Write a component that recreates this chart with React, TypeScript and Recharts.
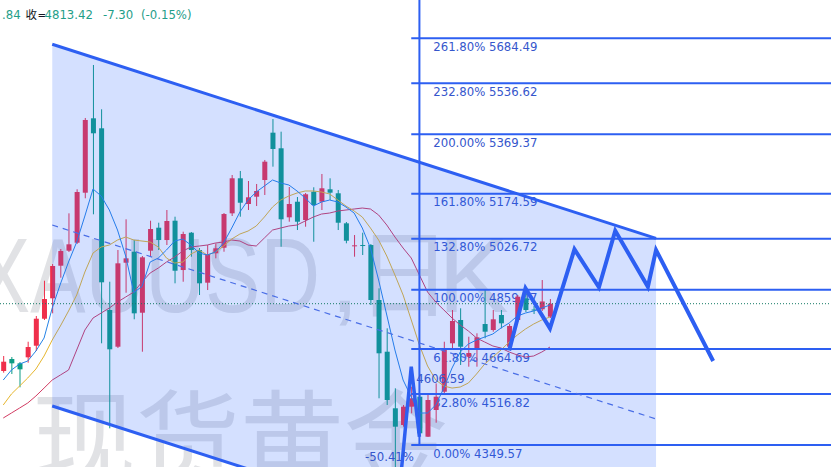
import React from 'react';
import { ComposedChart, XAxis, YAxis, Bar, Line, Area, Scatter, ReferenceLine } from 'recharts';

// ---- daily candles (XAUUSD, 日K) ----
const OPEN = [4592.5, 4631.8, 4617.7, 4637.4, 4675.5, 4764.1, 4831.1, 4938.1, 4987.3, 5013.5,
  5177.7, 5421.9, 5389.1, 4792.7, 4672.2, 4947.9, 4984.0, 4783.8, 4987.3, 5062.8,
  5022.4, 5085.8, 4923.9, 5046.4, 4989.6, 4882.3, 4978.8, 4997.1, 5110.0, 5225.0,
  5140.6, 5164.6, 5219.4, 5374.7, 5323.5, 5096.9, 5148.1, 5088.1, 5181.0, 5148.1,
  5188.9, 5175.8, 5077.2, 5002.7, 5006.0, 5006.0, 4825.5, 4655.8, 4470.1, 4415.2,
  4475.3, 4508.1, 4376.8, 4464.5, 4524.5, 4683.4, 4759.9, 4639.4, 4663.7, 4746.7,
  4727.0, 4776.3, 4672.2, 4759.9, 4831.1, 4794.3, 4795.0, 4770.7];
const HIGH = [4641.7, 4638.4, 4622.0, 4688.6, 4773.0, 4888.8, 4943.6, 4992.9, 5110.0, 5188.9,
  5422.9, 5596.9, 5451.5, 4885.5, 4989.6, 5090.4, 5022.4, 4969.9, 5085.8, 5079.2,
  5120.9, 5098.9, 5049.7, 5048.7, 4996.1, 5006.0, 5011.6, 5111.0, 5235.8, 5249.0,
  5216.1, 5206.3, 5285.1, 5419.6, 5378.0, 5196.4, 5163.6, 5176.7, 5195.5, 5239.1,
  5225.0, 5186.6, 5081.5, 5038.8, 5046.4, 5009.3, 4863.9, 4732.6, 4535.7, 4480.9,
  4541.1, 4520.2, 4519.3, 4551.9, 4688.6, 4792.7, 4798.3, 4705.0, 4716.2, 4858.3,
  4792.7, 4792.7, 4746.7, 4841.9, 4852.7, 4805.8, 4891.1, 4828.7];
const LOW = [4586.9, 4582.6, 4539.0, 4619.7, 4658.1, 4759.9, 4781.8, 4898.7, 4983.0, 5009.3,
  5159.4, 5106.8, 4683.4, 4404.4, 4667.9, 4849.4, 4762.2, 4655.8, 4967.6, 4989.6,
  5006.0, 4880.3, 4885.5, 4967.6, 4841.9, 4858.3, 4962.3, 4984.0, 5101.2, 5098.9,
  5120.9, 5134.0, 5170.2, 5263.1, 5000.4, 5082.5, 5055.2, 5066.1, 5016.8, 5120.9,
  5153.7, 5055.2, 5011.6, 4967.6, 4973.2, 4809.1, 4502.9, 4480.9, 4262.0, 4409.7,
  4453.6, 4376.8, 4375.9, 4422.8, 4520.2, 4667.0, 4612.2, 4606.6, 4606.6, 4699.8,
  4721.5, 4732.6, 4667.9, 4753.3, 4786.1, 4779.5, 4789.4, 4766.4];
const CLOSE = [4623.0, 4617.7, 4598.0, 4671.2, 4764.1, 4828.7, 4937.1, 4986.3, 5008.3, 5180.0,
  5416.4, 5372.7, 4883.6, 4663.7, 4945.9, 4962.3, 4781.8, 4965.6, 5058.5, 5022.4,
  5084.8, 4921.6, 5042.1, 4989.6, 4880.3, 4976.5, 4995.2, 5107.7, 5225.0, 5144.8,
  5162.6, 5183.3, 5279.5, 5321.2, 5090.4, 5140.6, 5082.5, 5172.5, 5137.3, 5192.2,
  5177.7, 5079.2, 5020.1, 5005.0, 5004.0, 4825.5, 4650.6, 4497.3, 4409.7, 4475.3,
  4502.9, 4388.0, 4497.3, 4508.1, 4661.4, 4756.6, 4672.2, 4651.5, 4703.1, 4721.5,
  4762.2, 4749.0, 4740.2, 4836.3, 4792.7, 4791.0, 4820.72, 4813.42];

// ---- moving averages ----
const MA5 = [4562.9, 4595.7, 4615.4, 4625.3, 4658.1, 4700.8, 4799.2, 4878.0, 4950.2, 5015.8,
  5101.2, 5189.9, 5166.9, 5120.9, 5055.2, 4969.9, 4850.0, 4870.0, 4950.2, 4963.3,
  4989.6, 5019.1, 5025.7, 5006.0, 4979.7, 4973.2, 4983.0, 5012.6, 5061.8, 5114.3,
  5153.7, 5180.0, 5199.7, 5219.4, 5209.6, 5203.0, 5183.3, 5160.3, 5134.0, 5147.1,
  5153.7, 5147.1, 5130.7, 5111.0, 5061.8, 4996.1, 4891.1, 4776.3, 4661.4, 4562.9,
  4507.1, 4454.6, 4454.6, 4480.9, 4536.5, 4602.3, 4654.8, 4681.1, 4694.2, 4704.1,
  4713.9, 4733.6, 4750.0, 4773.0, 4782.8, 4789.4, 4799.2, 4809.1];
const MA10 = [4480.9, 4517.0, 4543.2, 4569.5, 4599.0, 4641.7, 4694.2, 4740.2, 4789.4, 4841.9,
  4917.4, 4979.7, 4999.4, 5006.0, 5022.4, 5032.3, 5022.4, 5019.1, 5015.8, 4999.4,
  4963.3, 4946.9, 4950.2, 4976.5, 4989.6, 4973.2, 4983.0, 5002.7, 5025.7, 5042.1,
  5051.9, 5068.4, 5097.9, 5130.7, 5153.7, 5166.9, 5176.7, 5183.3, 5183.3, 5180.0,
  5173.5, 5153.7, 5134.0, 5117.6, 5097.9, 5061.8, 5022.4, 4969.9, 4907.5, 4841.9,
  4759.9, 4677.8, 4608.9, 4562.9, 4543.2, 4536.5, 4539.9, 4553.1, 4582.6, 4615.4,
  4638.4, 4661.4, 4687.6, 4710.6, 4730.3, 4746.7, 4759.9, 4769.7];
const MA20 = [4438.2, 4454.6, 4471.0, 4487.5, 4510.4, 4536.5, 4562.9, 4579.3, 4595.7, 4661.4,
  4727.0, 4766.4, 4782.8, 4799.2, 4818.9, 4835.3, 4851.7, 4884.6, 4914.1, 4930.5,
  4950.2, 4966.6, 4986.3, 4999.4, 5002.7, 5006.0, 5012.6, 5015.8, 5022.4, 5019.1,
  5006.0, 5002.7, 5029.0, 5055.2, 5061.8, 5068.4, 5071.6, 5084.8, 5097.9, 5107.7,
  5111.0, 5117.6, 5120.9, 5124.2, 5127.4, 5124.2, 5104.5, 5071.6, 5032.3, 4996.1,
  4963.3, 4907.5, 4851.7, 4818.9, 4792.7, 4766.4, 4743.4, 4723.7, 4700.8, 4687.6,
  4674.5, 4667.9, 4654.8, 4645.0, 4638.4, 4641.7, 4654.8, 4671.2];

// ---- drawings ----
const FIB_PCT = [261.8, 232.8, 200, 161.8, 132.8, 100, 61.8, 32.8, 0];
const FIB_PRICE = [5684.49, 5536.62, 5369.37, 5174.59, 5026.72, 4859.47, 4664.69, 4516.82, 4349.57];
const FIB_START_BAR = 50;
const FIB_AXIS_BAR = 51;
const CHANNEL_X = [6, 80];
const CHANNEL_UPPER = [5664.8, 5028.0];
const CHANNEL_MID = [5071.7, 4434.9];
const CHANNEL_LOWER = [4477.6, 3840.5];
const PROJ_X = [62, 64, 67, 70, 73, 75, 79, 80, 87];
const PROJ_Y = [4660.0, 4863.9, 4732.6, 4991.9, 4867.2, 5052.9, 4869.1, 4989.6, 4625.3];
const LEG_X = [48, 50, 51];
const LEG_Y = [4044.3, 4606.59, 4376.8];
const LEG_PCT = -50.41;
const LAST_PRICE = 4813.42;
const HEADER_TAIL = '.84';
const HEADER_CHANGE = -7.30;
const HEADER_CHANGE_PCT = -0.15;

const N_ROWS = 102;
const X_DOMAIN: [number, number] = [-0.4, 101.44];
const Y_DOMAIN: [number, number] = [4277.4, 5810.2];

const UP = '#ef2f4b';
const DOWN = '#0c9c84';
const BLUE = '#2d5ff2';
const LABEL_BLUE = '#3556cc';
const LABEL_FONT = "'DejaVu Sans Condensed', 'Noto Sans', sans-serif";
const TEAL = '#1f9e89';

const rows = Array.from({ length: N_ROWS }, (_, i) => {
  const r: any = { x: i };
  if (i < OPEN.length) {
    r.open = OPEN[i];
    r.high = HIGH[i];
    r.low = LOW[i];
    r.close = CLOSE[i];
    r.range = [LOW[i], HIGH[i]];
    r.ma5 = MA5[i];
    r.ma10 = MA10[i];
    r.ma20 = MA20[i];
  }
  const c = CHANNEL_X.indexOf(i);
  if (c >= 0) {
    r.chan = [CHANNEL_LOWER[c], CHANNEL_UPPER[c]];
    r.chUp = CHANNEL_UPPER[c];
    r.chMid = CHANNEL_MID[c];
    r.chLo = CHANNEL_LOWER[c];
  }
  const p = PROJ_X.indexOf(i);
  if (p >= 0) r.proj = PROJ_Y[p];
  const l = LEG_X.indexOf(i);
  if (l >= 0) r.leg = LEG_Y[l];
  return r;
});

const fibLabelRows = FIB_PCT.map((pct, k) => ({
  x: FIB_START_BAR,
  y: FIB_PRICE[k],
  text: `${pct.toFixed(2)}% ${FIB_PRICE[k].toFixed(2)}`,
}));

const legLabelRows = [
  { x: LEG_X[1], y: LEG_Y[1], text: LEG_Y[1].toFixed(2), kind: 'peak' },
  { x: FIB_AXIS_BAR, y: FIB_PRICE[FIB_PRICE.length - 1], text: `${LEG_PCT.toFixed(2)}%`, kind: 'pct' },
];

const Candle = (props: any) => {
  const { x, y, width, height, payload } = props;
  if (!payload || payload.open == null || x == null || isNaN(y) || isNaN(height)) return <g />;
  const { open, close, high, low } = payload;
  const top = Math.min(y, y + height);
  const bottom = Math.max(y, y + height);
  const span = high - low || 1;
  const k = (bottom - top) / span;
  const yO = top + (high - open) * k;
  const yC = top + (high - close) * k;
  const up = close >= open;
  const color = up ? UP : DOWN;
  const cx = x + width / 2;
  const bTop = Math.min(yO, yC);
  const bH = Math.max(1, Math.abs(yO - yC));
  return (
    <g>
      <line x1={cx} x2={cx} y1={top} y2={bottom} stroke={color} strokeWidth={1} />
      <rect x={x} y={bTop} width={width} height={bH} fill={color} />
    </g>
  );
};

const FibLabel = (props: any) => {
  const { cx, cy, payload } = props;
  if (cx == null || cy == null) return <g />;
  return (
    <text x={cx + 22} y={cy + 12.5} fill={LABEL_BLUE} fontSize={13} fontFamily={LABEL_FONT}>
      {payload.text}
    </text>
  );
};

const LegLabel = (props: any) => {
  const { cx, cy, payload } = props;
  if (cx == null || cy == null) return <g />;
  const isPeak = payload.kind === 'peak';
  return (
    <text
      x={isPeak ? cx + 5 : cx - 5.5}
      y={cy + 16}
      textAnchor={isPeak ? 'start' : 'end'}
      fill={LABEL_BLUE}
      fontSize={13}
      fontFamily={LABEL_FONT}
    >
      {payload.text}
    </text>
  );
};

export default function App() {
  const W = 831;
  const H = 467;
  const wmColor = '#e1e2e5';
  const hdrFont = "'DejaVu Sans Condensed', 'Noto Sans', 'Noto Sans CJK SC', sans-serif";
  return (
    <div style={{ position: 'fixed', left: 0, top: 0, width: W, height: H, background: '#ffffff', overflow: 'hidden' }}>
      <svg width={W} height={H} style={{ position: 'absolute', left: 0, top: 0 }}>
        <text x={-25} y={312} fontSize={106} fontFamily="'Liberation Sans', Arial, sans-serif" fill={wmColor}
          textLength={345} lengthAdjust="spacingAndGlyphs">XAUUSD</text>
        <text x={330} y={312} fontSize={106} fontFamily="'Liberation Sans', Arial, sans-serif" fill={wmColor}>,</text>
        <text x={404} y={309} fontSize={96} textAnchor="middle" fontFamily="'Noto Sans CJK SC', sans-serif" fill={wmColor}>日</text>
        <text x={438} y={312} fontSize={106} fontFamily="'Liberation Sans', Arial, sans-serif" fill={wmColor}>K</text>
        <text x={32} y={478} fontSize={104} fontFamily="'Noto Sans CJK SC', sans-serif" fill={wmColor}>现货黄金</text>
      </svg>
      <div style={{ position: 'absolute', left: 0, top: 0 }}>
        <ComposedChart width={W} height={H} data={rows} margin={{ top: 0, right: 0, bottom: 0, left: 0 }}>
          <XAxis dataKey="x" type="number" domain={X_DOMAIN} allowDataOverflow hide />
          <YAxis type="number" domain={Y_DOMAIN} allowDataOverflow hide />
          <Scatter data={fibLabelRows} dataKey="y" shape={FibLabel} isAnimationActive={false} zIndex={250} />
          <Bar dataKey="range" barSize={5} shape={Candle} isAnimationActive={false} zIndex={300} />
          <Line dataKey="ma20" stroke="#d23c63" strokeWidth={1} dot={false} activeDot={false} isAnimationActive={false} zIndex={350} />
          <Line dataKey="ma10" stroke="#e6b62e" strokeWidth={1} dot={false} activeDot={false} isAnimationActive={false} zIndex={351} />
          <Line dataKey="ma5" stroke="#2583e6" strokeWidth={1} dot={false} activeDot={false} isAnimationActive={false} zIndex={352} />
          <Area dataKey="chan" type="linear" connectNulls stroke="none" fill="#2962ff" fillOpacity={0.2}
            isAnimationActive={false} activeDot={false} zIndex={450} />
          <ReferenceLine y={LAST_PRICE} stroke="#167a66" strokeWidth={1} strokeDasharray="1 2" ifOverflow="visible" zIndex={460} />
          {FIB_PRICE.map((p, k) => (
            <ReferenceLine key={k} segment={[{ x: FIB_START_BAR, y: p }, { x: X_DOMAIN[1], y: p }]}
              stroke={BLUE} strokeWidth={2} ifOverflow="visible" zIndex={500} />
          ))}
          <ReferenceLine segment={[{ x: FIB_AXIS_BAR, y: FIB_PRICE[FIB_PRICE.length - 1] }, { x: FIB_AXIS_BAR, y: Y_DOMAIN[1] }]}
            stroke={BLUE} strokeWidth={2} ifOverflow="visible" zIndex={500} />
          <Line dataKey="chMid" connectNulls stroke="#4a6ee6" strokeWidth={1.2} strokeDasharray="6 5" dot={false} activeDot={false} isAnimationActive={false} zIndex={510} />
          <Line dataKey="chUp" connectNulls stroke={BLUE} strokeWidth={3} dot={false} activeDot={false} isAnimationActive={false} zIndex={520} />
          <Line dataKey="chLo" connectNulls stroke={BLUE} strokeWidth={3} dot={false} activeDot={false} isAnimationActive={false} zIndex={520} />
          <Line dataKey="leg" connectNulls stroke={BLUE} strokeWidth={3.5} strokeLinejoin="miter" dot={false} activeDot={false} isAnimationActive={false} zIndex={540} />
          <Line dataKey="proj" connectNulls stroke={BLUE} strokeWidth={4} strokeLinejoin="miter" dot={false} activeDot={false} isAnimationActive={false} zIndex={550} />
          <Scatter data={legLabelRows} dataKey="y" shape={LegLabel} isAnimationActive={false} zIndex={560} />
        </ComposedChart>
      </div>
      <svg width={W} height={30} style={{ position: 'absolute', left: 0, top: 0 }}>
        <g fontFamily={hdrFont}>
          <text x={2} y={19} fill={TEAL} fontSize={13}>{HEADER_TAIL}</text>
          <text x={25.5} y={19} fill="#131722" fontSize={11.5}>收</text>
          <text x={37.5} y={19} fill="#131722" fontSize={11.5}>=</text>
          <text x={44.5} y={19} fill={TEAL} fontSize={13}>{LAST_PRICE.toFixed(2)}</text>
          <text x={103} y={19} fill={TEAL} fontSize={13}>{HEADER_CHANGE.toFixed(2)}</text>
          <text x={141} y={19} fill={TEAL} fontSize={13}>{`(${HEADER_CHANGE_PCT.toFixed(2)}%)`}</text>
        </g>
      </svg>
    </div>
  );
}
